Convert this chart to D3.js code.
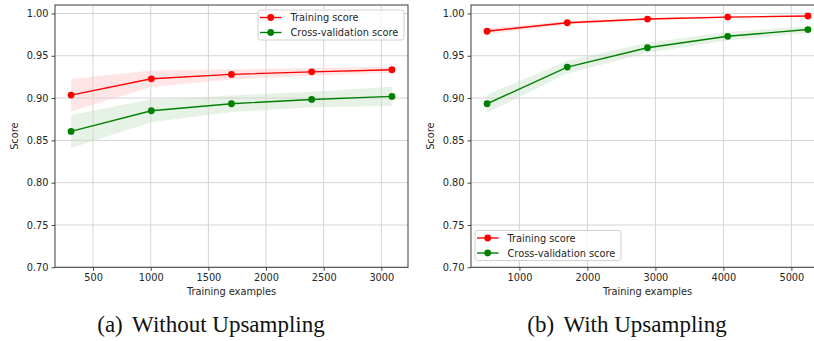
<!DOCTYPE html>
<html>
<head>
<meta charset="utf-8">
<script src="https://cdn.jsdelivr.net/npm/d3@7"></script>
<style>
  body { margin: 0; background: #fff; }
  svg { display: block; }
  .tick text { font-family: "DejaVu Sans", sans-serif; font-size: 9.8px; fill: #262626; }
  .lbl { font-family: "DejaVu Sans", sans-serif; font-size: 9.8px; fill: #262626; }
  .caption { font-family: "Liberation Serif", "Times New Roman", serif; font-size: 23px; fill: #111; }
</style>
</head>
<body>
<svg width="814" height="341"></svg>
<script>

// DATA

// (a) without upsampling
var sizesA = [309, 1005, 1700, 2396, 3092];
var trainMeanA = [0.9035, 0.9228, 0.928, 0.931, 0.9335];
var trainStdA = [0.019, 0.0097, 0.006, 0.0045, 0.0035];
var cvMeanA = [0.8606, 0.885, 0.8933, 0.8984, 0.902];
var cvStdA = [0.0195, 0.0135, 0.0098, 0.0092, 0.0115];

// (b) with upsampling
var sizesB = [524, 1704, 2884, 4064, 5244];
var trainMeanB = [0.979, 0.989, 0.9934, 0.9957, 0.997];
var trainStdB = [0.0035, 0.002, 0.0015, 0.001, 0.001];
var cvMeanB = [0.8933, 0.9366, 0.9595, 0.973, 0.981];
var cvStdB = [0.0105, 0.0075, 0.006, 0.005, 0.004];

var yTicks = [0.70, 0.75, 0.80, 0.85, 0.90, 0.95, 1.00];
var xTicksA = [500, 1000, 1500, 2000, 2500, 3000];
var xTicksB = [1000, 2000, 3000, 4000, 5000];
var seriesNames = ["Training score", "Cross-validation score"];
var captions = [["(a)", "Without Upsampling"], ["(b)", "With Upsampling"]];

var svg = d3.select("svg");

function rows(sizes, mean, std) {
    return sizes.map(function (s, i) {
        return {x: s, y: mean[i], lo: mean[i] - std[i], hi: mean[i] + std[i]};
    });
}

function panel(opt) {
    var g = svg.append("g");
    var top = 5, bottom = 267.3;

    // matplotlib style 5% margin on x
    var ext = d3.extent(opt.sizes);
    var pad = (ext[1] - ext[0]) * 0.05;
    var x = d3.scaleLinear()
        .domain([ext[0] - pad, ext[1] + pad])
        .range([opt.left, opt.right]);
    var y = d3.scaleLinear()
        .domain([0.70, 1.01])
        .range([bottom, top]);

    var train = rows(opt.sizes, opt.trainMean, opt.trainStd);
    var cv = rows(opt.sizes, opt.cvMean, opt.cvStd);

    var area = d3.area()
        .x(function (d) { return x(d.x); })
        .y0(function (d) { return y(d.lo); })
        .y1(function (d) { return y(d.hi); });
    var line = d3.line()
        .x(function (d) { return x(d.x); })
        .y(function (d) { return y(d.y); });

    g.append("path").datum(train).attr("d", area)
        .attr("fill", "#ff0000").attr("fill-opacity", 0.1);
    g.append("path").datum(cv).attr("d", area)
        .attr("fill", "#008000").attr("fill-opacity", 0.1);

    // grid
    g.selectAll(".gx").data(opt.xTicks).enter().append("line")
        .attr("x1", function (d) { return x(d); })
        .attr("x2", function (d) { return x(d); })
        .attr("y1", top).attr("y2", bottom)
        .attr("stroke", "#d4d4d4").attr("stroke-width", 1);
    g.selectAll(".gy").data(yTicks).enter().append("line")
        .attr("x1", opt.left).attr("x2", opt.right)
        .attr("y1", function (d) { return y(d); })
        .attr("y2", function (d) { return y(d); })
        .attr("stroke", "#d4d4d4").attr("stroke-width", 1);

    // axes
    var xAxis = d3.axisBottom(x).tickValues(opt.xTicks)
        .tickSize(3.5).tickPadding(3).tickFormat(d3.format("d"));
    var yAxis = d3.axisLeft(y).tickValues(yTicks)
        .tickSize(3.5).tickPadding(3).tickFormat(d3.format(".2f"));

    var gX = g.append("g").attr("transform", "translate(0," + bottom + ")").call(xAxis);
    var gY = g.append("g").attr("transform", "translate(" + opt.left + ",0)").call(yAxis);
    gX.select(".domain").remove();
    gY.select(".domain").remove();
    g.selectAll(".tick line").attr("stroke", "#444");

    g.append("rect")
        .attr("x", opt.left).attr("y", top)
        .attr("width", opt.right - opt.left).attr("height", bottom - top)
        .attr("fill", "none").attr("stroke", "#3a3a3a").attr("stroke-width", 1);

    // lines + markers
    [[train, "#ff0000"], [cv, "#008000"]].forEach(function (s) {
        g.append("path").datum(s[0]).attr("d", line)
            .attr("fill", "none").attr("stroke", s[1]).attr("stroke-width", 1.4);
        g.selectAll(null).data(s[0]).enter().append("circle")
            .attr("cx", function (d) { return x(d.x); })
            .attr("cy", function (d) { return y(d.y); })
            .attr("r", 3.4).attr("fill", s[1]);
    });

    // labels
    g.append("text").attr("class", "lbl")
        .attr("x", opt.xLabelX)
        .attr("y", 294.5).attr("text-anchor", "middle")
        .text("Training examples");
    g.append("text").attr("class", "lbl")
        .attr("transform", "translate(" + opt.yLabelX + "," + (top + bottom) / 2 + ") rotate(-90)")
        .attr("text-anchor", "middle")
        .text("Score");

    // legend
    var lg = g.append("g").attr("transform", "translate(" + opt.legX + "," + opt.legY + ")");
    lg.append("rect")
        .attr("x", 0).attr("y", 0).attr("width", 146).attr("height", 30)
        .attr("rx", 2.5)
        .attr("fill", "#fff").attr("fill-opacity", 0.8)
        .attr("stroke", "#d0d0d0").attr("stroke-width", 1);
    var item = lg.selectAll(".item").data(seriesNames).enter().append("g")
        .attr("transform", function (d, i) { return "translate(0," + (7.5 + i * 15) + ")"; });
    item.append("line")
        .attr("x1", 2).attr("x2", 23.5).attr("y1", 0).attr("y2", 0)
        .attr("stroke", function (d, i) { return i ? "#008000" : "#ff0000"; })
        .attr("stroke-width", 1.4);
    item.append("circle")
        .attr("cx", 12.7).attr("cy", 0).attr("r", 3.4)
        .attr("fill", function (d, i) { return i ? "#008000" : "#ff0000"; });
    item.append("text").attr("class", "lbl")
        .attr("x", 32.5).attr("y", 3.5)
        .text(function (d) { return d; });

    // caption
    var cap = g.append("text").attr("class", "caption")
        .attr("x", opt.capX).attr("y", 331.5).attr("text-anchor", "middle");
    cap.append("tspan").text(opt.caption[0]);
    cap.append("tspan").attr("dx", 4).text(" " + opt.caption[1]);
}

panel({
    sizes: sizesA, trainMean: trainMeanA, trainStd: trainStdA,
    cvMean: cvMeanA, cvStd: cvStdA, xTicks: xTicksA,
    left: 55, right: 408, xLabelX: 231.5, yLabelX: 18,
    legX: 258, legY: 10, capX: 211, caption: captions[0]
});

panel({
    sizes: sizesB, trainMean: trainMeanB, trainStd: trainStdB,
    cvMean: cvMeanB, cvStd: cvStdB, xTicks: xTicksB,
    left: 471, right: 824, xLabelX: 647.5, yLabelX: 434,
    legX: 475, legY: 230.5, capX: 627, caption: captions[1]
});

</script>
</body>
</html>
